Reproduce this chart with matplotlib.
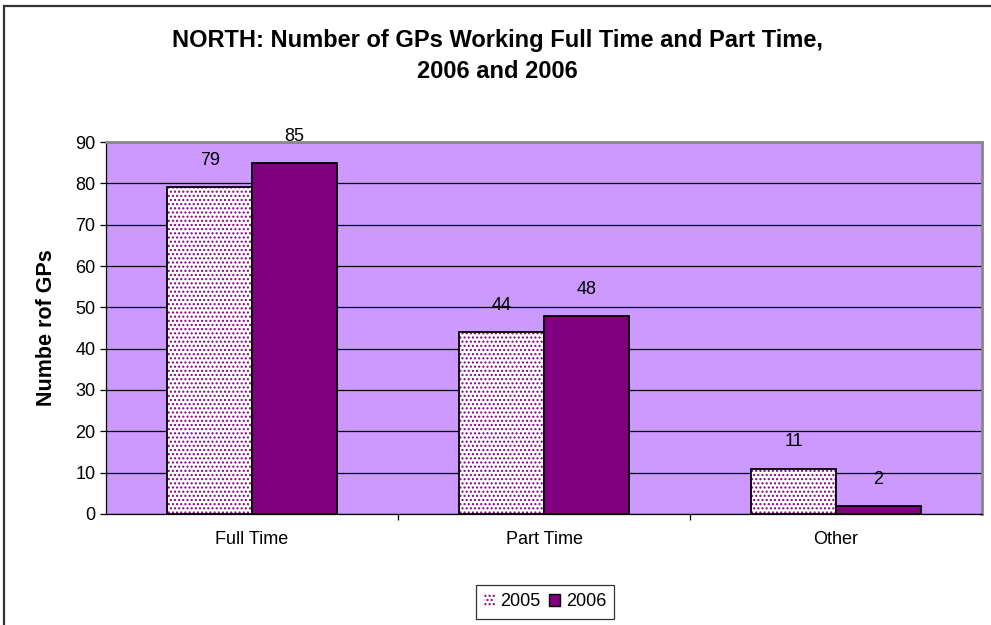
import matplotlib
matplotlib.use("Agg")
import matplotlib.pyplot as plt
from matplotlib.patches import Rectangle, Patch
import numpy as np

plt.rcParams['font.family'] = ['Liberation Sans', 'DejaVu Sans']
plt.rcParams['hatch.linewidth'] = 1.0

categories = ["Full Time", "Part Time", "Other"]
series_names = ["2005", "2006"]
values_2005 = [79, 44, 11]
values_2006 = [85, 48, 2]
yticks = [0, 10, 20, 30, 40, 50, 60, 70, 80, 90]

W, H = 991, 625
fig = plt.figure(figsize=(W/100, H/100), dpi=100)
fig.patch.set_facecolor("white")

# outer chart border (left/top visible)
fig.add_artist(Rectangle((4/W, -0.1), 1.2, (H-6)/H + 0.1, transform=fig.transFigure,
                         fill=False, edgecolor="#333333", linewidth=1.6))

ax_l, ax_r, ax_t, ax_b = 106, 982, 142, 514
ax = fig.add_axes([ax_l/W, 1-ax_b/H, (ax_r-ax_l)/W, (ax_b-ax_t)/H])
ax.set_facecolor("#CC99FF")

x = np.arange(len(categories)) + 0.5
bw = 0.29
purple = "#800080"
fs = 13

# 2005: dotted pattern
ax.bar(x - bw/2, values_2005, bw, color="white", edgecolor=purple, hatch="....",
       linewidth=0, zorder=3)
ax.bar(x - bw/2, values_2005, bw, fill=False, edgecolor="black", linewidth=1.3, zorder=4)
# 2006: solid
ax.bar(x + bw/2, values_2006, bw, color=purple, edgecolor="black", linewidth=1.3, zorder=4)

for xi, v in zip(x - bw/2, values_2005):
    ax.annotate(str(v), (xi, v), xytext=(0, 13), textcoords="offset points",
                ha="center", va="bottom", fontsize=fs)
for xi, v in zip(x + bw/2, values_2006):
    ax.annotate(str(v), (xi, v), xytext=(0, 13), textcoords="offset points",
                ha="center", va="bottom", fontsize=fs)

ax.set_xlim(0, 3)
ax.set_ylim(0, 90)
ax.set_yticks(yticks)
ax.set_yticklabels([str(t) for t in yticks], fontsize=fs)
ax.yaxis.grid(True, color="black", linewidth=0.9)
ax.set_axisbelow(True)
ax.tick_params(axis="y", direction="out", length=4.5, width=0.9, pad=3)

ax.set_xticks(x)
ax.set_xticklabels(categories, fontsize=fs)
ax.tick_params(axis="x", which="major", length=0, pad=12)
ax.set_xticks([1, 2], minor=True)
ax.tick_params(axis="x", which="minor", direction="out", length=4.5, width=0.9)

for s in ["left", "bottom"]:
    ax.spines[s].set_color("black")
    ax.spines[s].set_linewidth(0.9)
for s in ["top", "right"]:
    ax.spines[s].set_color("#888888")
    ax.spines[s].set_linewidth(2)

ax.set_ylabel("Numbe rof GPs", fontsize=15.5, fontweight="bold", labelpad=13)

fig.text(497/W, 1-40/H, "NORTH: Number of GPs Working Full Time and Part Time,",
         ha="center", va="center", fontsize=17, fontweight="bold")
fig.text(497/W, 1-71/H, "2006 and 2006",
         ha="center", va="center", fontsize=17, fontweight="bold")

# legend
handles = [Patch(facecolor="white", edgecolor=purple, hatch="....", linewidth=0),
           Patch(facecolor=purple, edgecolor="black", linewidth=1)]
leg = fig.legend(handles, series_names, loc="center", bbox_to_anchor=(545/W, 1-602/H),
                 ncol=2, fontsize=fs, frameon=True, fancybox=False, edgecolor="black",
                 handlelength=0.6, handleheight=0.6, handletextpad=0.3, columnspacing=0.5,
                 borderpad=0.45)
leg.get_frame().set_linewidth(0.9)

fig.savefig("out.png", dpi=100)
